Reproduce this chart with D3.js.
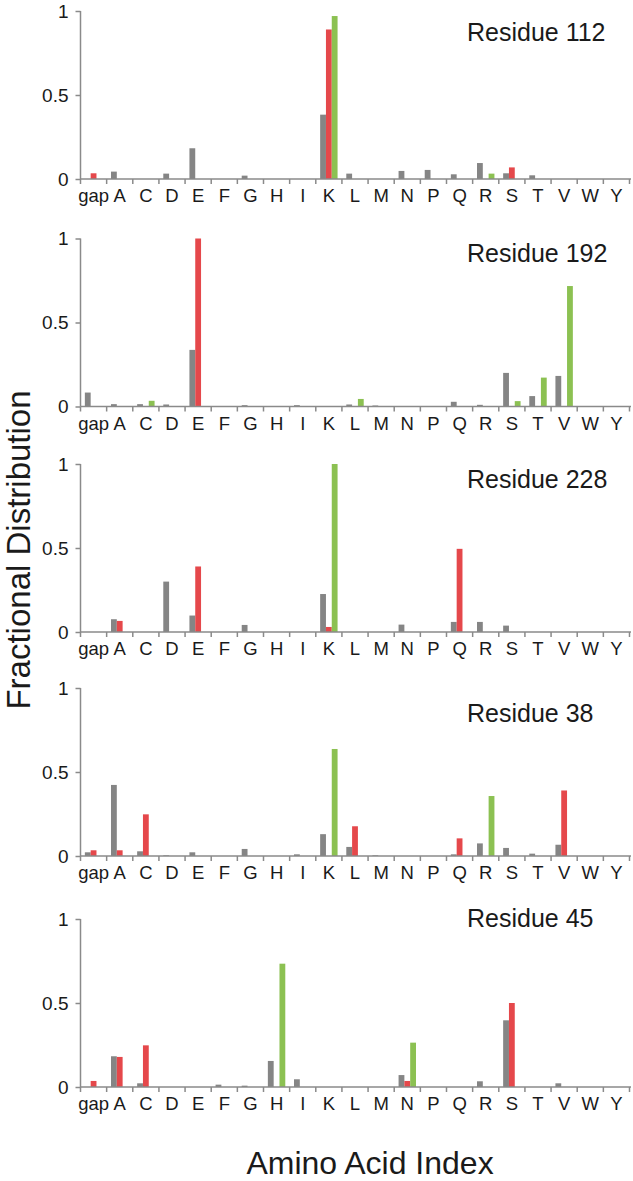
<!DOCTYPE html>
<html>
<head lang="en">
    <meta charset="UTF-8">
    <title>Fractional Distribution</title>
    <script src="https://cdn.jsdelivr.net/npm/d3@7"></script>
    <style>
        body { margin: 0; background: #fff; }
        text { font-family: "Liberation Sans", Arial, sans-serif; fill: #1a1a1a; }
    </style>
</head>
<body>

<script>

    // amino acid categories along x
    var categories = ["gap","A","C","D","E","F","G","H","I","K","L","M","N","P","Q","R","S","T","V","W","Y"];
    var yTicks = [0, 0.5, 1];
    var series = ["gray", "red", "green"];
    var titles = ["Residue 112", "Residue 192", "Residue 228", "Residue 38", "Residue 45"];

    //                 gap   A     C     D     E     F     G     H     I     K     L     M     N     P     Q     R     S     T     V     W  Y
    var gray112  = [0,    .044, 0,    .032, .183, 0,    .02,  0,    0,    .383, .032, 0,    .048, .054, .028, .095, .034, .022, 0,    0, 0];
    var red112   = [.034, 0,    0,    0,    0,    0,    0,    0,    0,    .89,  0,    0,    0,    0,    0,    0,    .069, 0,    0,    0, 0];
    var green112 = [0,    0,    0,    0,    0,    0,    0,    0,    0,    .97,  0,    0,    0,    0,    0,    .032, 0,    0,    0,    0, 0];

    var gray192  = [.083, .014, .014, .012, .337, 0,    .008, 0,    .008, 0,    .012, .006, 0,    0,    .028, .01,  .2,   .062, .182, 0, 0];
    var red192   = [0,    0,    0,    0,    1,    0,    0,    0,    0,    0,    0,    0,    0,    0,    0,    0,    0,    0,    0,    0, 0];
    var green192 = [0,    0,    .034, 0,    0,    0,    0,    0,    0,    0,    .045, 0,    0,    0,    0,    0,    .032, .172, .717, 0, 0];

    var gray228  = [0,    .076, 0,    .30,  .098, 0,    .042, 0,    0,    .226, 0,    0,    .044, 0,    .06,  .06,  .038, 0,    0,    0, 0];
    var red228   = [0,    .066, 0,    0,    .39,  0,    0,    0,    0,    .03,  0,    0,    0,    0,    .495, 0,    0,    0,    0,    0, 0];
    var green228 = [0,    0,    0,    0,    0,    0,    0,    0,    0,    1,    0,    0,    0,    0,    0,    0,    0,    0,    0,    0, 0];

    var gray38   = [.022, .423, .028, .004, .022, 0,    .042, 0,    .01,  .13,  .054, .004, 0,    0,    .01,  .075, .048, .014, .067, 0, 0];
    var red38    = [.034, .034, .248, 0,    0,    0,    0,    0,    0,    0,    .177, 0,    0,    0,    .105, 0,    0,    0,    .39,  0, 0];
    var green38  = [0,    0,    0,    0,    0,    0,    0,    0,    0,    .637, 0,    0,    0,    0,    0,    .357, 0,    0,    0,    0, 0];

    var gray45   = [0,    .183, .022, 0,    0,    .014, .008, .155, .046, 0,    0,    0,    .071, 0,    0,    .034, .397, 0,    .022, 0, 0];
    var red45    = [.036, .179, .248, 0,    0,    0,    0,    0,    0,    0,    0,    0,    .036, 0,    0,    0,    .5,   0,    0,    0, 0];
    var green45  = [0,    0,    0,    0,    0,    0,    0,    .734, 0,    0,    0,    0,    .264, 0,    0,    0,    0,    0,    0,    0, 0];

    var panels = [
        [gray112, red112, green112],
        [gray192, red192, green192],
        [gray228, red228, green228],
        [gray38, red38, green38],
        [gray45, red45, green45]
    ];

    var colors = {gray: "#858585", red: "#e5484b", green: "#8cc152"};

    // layout
    var width = 633, height = 1181;
    var left = 80.5, right = 629.5;
    var panelTop = [11, 238.5, 464, 688, 919];
    var panelH = 168;
    var titleY = [41, 262, 488, 722, 927];
    var axisColor = "#8a8a8a";

    var svg = d3.select("body").append("svg")
            .attr("width", width)
            .attr("height", height);

    svg.append("rect").attr("width", width).attr("height", height).attr("fill", "#fff");

    var x = d3.scaleBand().domain(categories).range([left, right]);
    var xs = d3.scaleBand().domain(series).range([0, x.step()]).paddingOuter(0.75);

    panels.forEach(function(p, k){

        var y = d3.scaleLinear().domain([0, 1]).range([panelTop[k] + panelH, panelTop[k]]);
        var g = svg.append("g");
        var y0 = y(0);

        // bars
        series.forEach(function(s, si){
            g.append("g").selectAll("rect")
                    .data(p[si])
                    .enter()
                    .append("rect")
                    .attr("x", function(d, i){ return x(categories[i]) + xs(s); })
                    .attr("width", xs.bandwidth())
                    .attr("y", function(d){ return y(d); })
                    .attr("height", function(d){ return y0 - y(d); })
                    .attr("fill", colors[s]);
        });

        // y axis
        var yAxis = g.append("g")
                .attr("transform", "translate(" + left + ",0)")
                .call(d3.axisLeft(y).tickValues(yTicks).tickSize(5).tickPadding(7)
                        .tickFormat(function(d){ return d === 0.5 ? "0.5" : d3.format("d")(d); }));
        yAxis.select(".domain").attr("stroke", axisColor).attr("stroke-width", 1.5)
                .attr("d", "M0," + y(1) + "V" + y0);
        yAxis.selectAll(".tick line").attr("stroke", axisColor).attr("stroke-width", 1.5);
        yAxis.selectAll(".tick text").attr("font-size", 19).attr("fill", "#1a1a1a")
                .style("font-family", "'Liberation Sans', Arial, sans-serif");

        // x axis: labels at band centers, ticks at band edges
        var xAxis = g.append("g")
                .attr("transform", "translate(0," + y0 + ")")
                .call(d3.axisBottom(x).tickSize(0).tickPadding(10));
        xAxis.select(".domain").remove();
        xAxis.selectAll(".tick text").attr("font-size", 18.5).attr("fill", "#1a1a1a")
                .attr("dy", "0.71em")
                .style("font-family", "'Liberation Sans', Arial, sans-serif");

        g.append("line")
                .attr("x1", left).attr("x2", right + 1.5)
                .attr("y1", y0).attr("y2", y0)
                .attr("stroke", axisColor).attr("stroke-width", 1.5);

        var edges = categories.map(function(c){ return x(c); }).concat([right]);
        g.append("g").selectAll("line")
                .data(edges)
                .enter()
                .append("line")
                .attr("x1", function(d){ return d; })
                .attr("x2", function(d){ return d; })
                .attr("y1", y0)
                .attr("y2", y0 + 5)
                .attr("stroke", axisColor)
                .attr("stroke-width", 1.5);

        g.append("text")
                .attr("x", 467)
                .attr("y", titleY[k])
                .attr("font-size", 25)
                .text(titles[k]);
    });

    svg.append("text")
            .attr("transform", "translate(30,550) rotate(-90)")
            .attr("text-anchor", "middle")
            .attr("font-size", 33)
            .text("Fractional Distribution");

    svg.append("text")
            .attr("x", 370)
            .attr("y", 1174)
            .attr("text-anchor", "middle")
            .attr("font-size", 32)
            .text("Amino Acid Index");

</script>
</body>
</html>
